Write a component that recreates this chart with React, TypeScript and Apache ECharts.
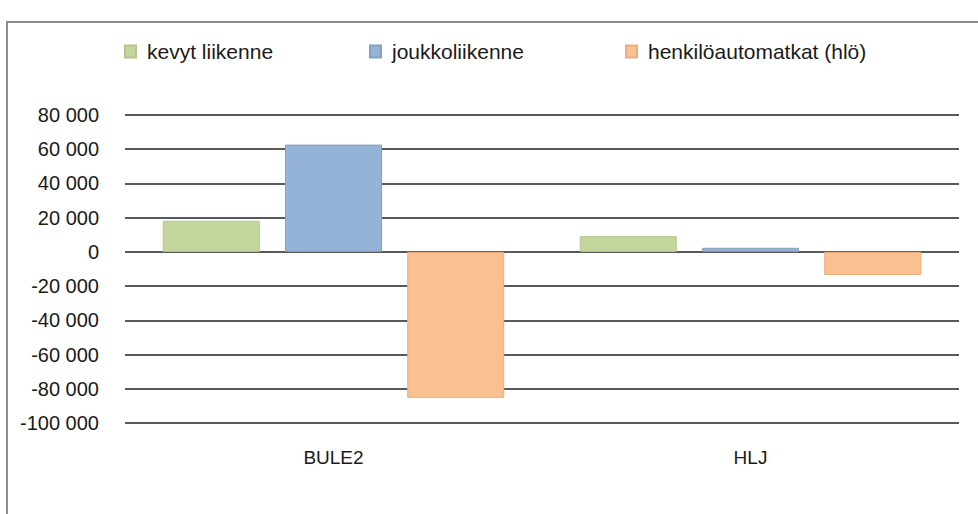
import React, { useEffect, useRef } from "react";
import * as echarts from "echarts";

const categories = ["BULE2", "HLJ"];
const seriesNames = ["kevyt liikenne", "joukkoliikenne", "henkilöautomatkat (hlö)"];
const kevytLiikenne = [18200, 9200];
const joukkoliikenne = [62700, 2400];
const henkiloautomatkat = [-85300, -13500];
const seriesColors = ["#c3d69b", "#95b3d7", "#fac090"];
const seriesBorders = ["#b3c68b", "#859fc4", "#e8ae80"];
const yMin = -100000;
const yMax = 80000;
const yStep = 20000;

const fmt = (v: number) => {
  const s = Math.abs(v).toString().replace(/\B(?=(\d{3})+(?!\d))/g, " ");
  return (v < 0 ? "-" : "") + s;
};

const FONT = "'Liberation Sans', Arial, sans-serif";

export default function App() {
  const ref = useRef<HTMLDivElement>(null);
  useEffect(() => {
    if (!ref.current) return;
    const chart = echarts.init(ref.current, undefined, { renderer: "svg" });
    const values = [kevytLiikenne, joukkoliikenne, henkiloautomatkat];
    const legendLefts = [119, 364, 620];
    chart.setOption({
      animation: false,
      backgroundColor: "#ffffff",
      graphic: [
        {
          type: "rect",
          shape: { x: 7, y: 22, width: 1100, height: 700 },
          style: { fill: "none", stroke: "#8c8c8c", lineWidth: 2 },
          silent: true,
        },
      ],
      legend: seriesNames.map((n, i) => ({
        data: [n],
        left: legendLefts[i],
        top: 36,
        itemWidth: 11,
        itemHeight: 12,
        icon: "rect",
        textStyle: { fontFamily: FONT, fontSize: 21, color: "#1a1a1a", padding: [0, 0, 0, 6] },
      })),
      grid: { left: 125, right: 19, top: 115, bottom: 91, containLabel: false },
      xAxis: {
        type: "category",
        data: categories,
        axisLine: { show: false },
        axisTick: { show: false },
        axisLabel: { fontFamily: FONT, fontSize: 19, color: "#1a1a1a", margin: 25 },
      },
      yAxis: {
        type: "value",
        min: yMin,
        max: yMax,
        interval: yStep,
        axisLine: { show: false },
        axisTick: { show: false },
        axisLabel: {
          fontFamily: FONT,
          fontSize: 20,
          color: "#1a1a1a",
          margin: 26,
          formatter: (v: number) => fmt(v),
        },
        splitLine: { lineStyle: { color: "#595959", width: 2 } },
      },
      series: seriesNames.map((n, i) => ({
        name: n,
        type: "bar",
        data: values[i],
        barWidth: 97,
        barGap: "26%",
        itemStyle: { color: seriesColors[i], borderColor: seriesBorders[i], borderWidth: 1 },
      })),
    });
    return () => chart.dispose();
  }, []);
  return (
    <div
      ref={ref}
      style={{ position: "fixed", left: 0, top: 0, width: 978, height: 514 }}
    />
  );
}
